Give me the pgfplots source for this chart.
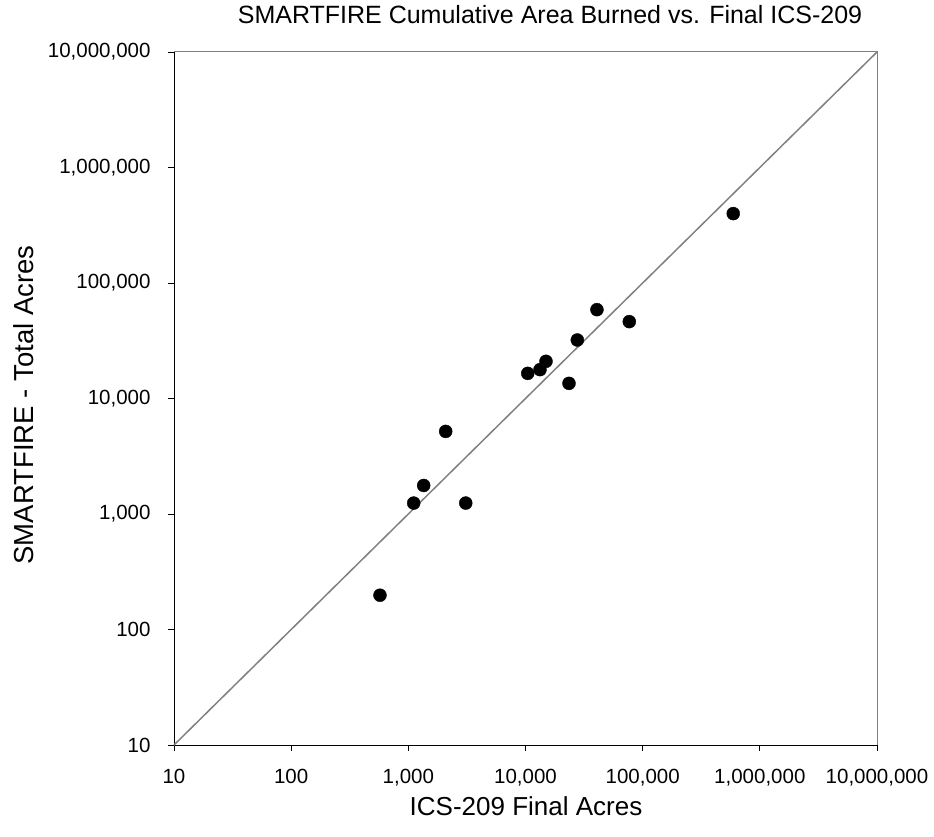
\documentclass[border=0pt]{standalone}
\usepackage{fontspec}
\setmainfont{Liberation Sans}
\usepackage{pgfplots}
\pgfplotsset{compat=1.18}
\definecolor{diag}{RGB}{128,128,128}
\begin{document}
\begin{tikzpicture}
\path[use as bounding box] (-174bp,-92bp) rectangle (760bp,745bp);
\begin{axis}[
  at={(0,0)}, anchor=south west,
  scale only axis, width=703bp, height=693bp,
  xmode=log, ymode=log,
  xmin=10, xmax=1e7, ymin=10, ymax=1e7,
  axis lines=left, axis line style={-, line width=1pt, black},
  tick align=outside, major tick length=6bp,
  tick style={black, line width=0.8pt},
  minor tick num=0, log basis x=10, log basis y=10,
  xtick={10,100,1000,10000,100000,1000000,10000000},
  ytick={10,100,1000,10000,100000,1000000,10000000},
  xticklabels={10,100,{1,000},{10,000},{100,000},{1,000,000},{10,000,000}},
  yticklabels={10,100,{1,000},{10,000},{100,000},{1,000,000},{10,000,000}},
  ticklabel style={font=\fontsize{20.5bp}{24bp}\selectfont},
  xticklabel style={yshift=-15bp},
  yticklabel style={xshift=-14bp},
  clip=false,
]
\draw[diag, line width=1pt] (rel axis cs:0,1) -- (rel axis cs:1,1) -- (rel axis cs:1,0);
\addplot[diag, line width=1.5pt, no marks] coordinates {(10,10) (10000000,10000000)};
\addplot[only marks, mark=*, mark size=6.5bp, black] coordinates {
(593000,399000)
(40700,58800)
(76900,46300)
(27700,32100)
(14960,20980)
(13300,17780)
(10450,16500)
(23500,13520)
(2084,5190)
(1352,1766)
(1111,1243)
(3090,1243)
(573,198)
};
\end{axis}
\node[font=\fontsize{25bp}{30bp}\selectfont] at (376bp,730bp) {SMARTFIRE Cumulative Area Burned vs. Final ICS-209};
\node[font=\fontsize{26bp}{30bp}\selectfont] at (352bp,-61bp) {ICS-209 Final Acres};
\node[font=\fontsize{27.5bp}{30bp}\selectfont, rotate=90] at (-150bp,340bp) {SMARTFIRE - Total Acres};
\end{tikzpicture}
\end{document}
